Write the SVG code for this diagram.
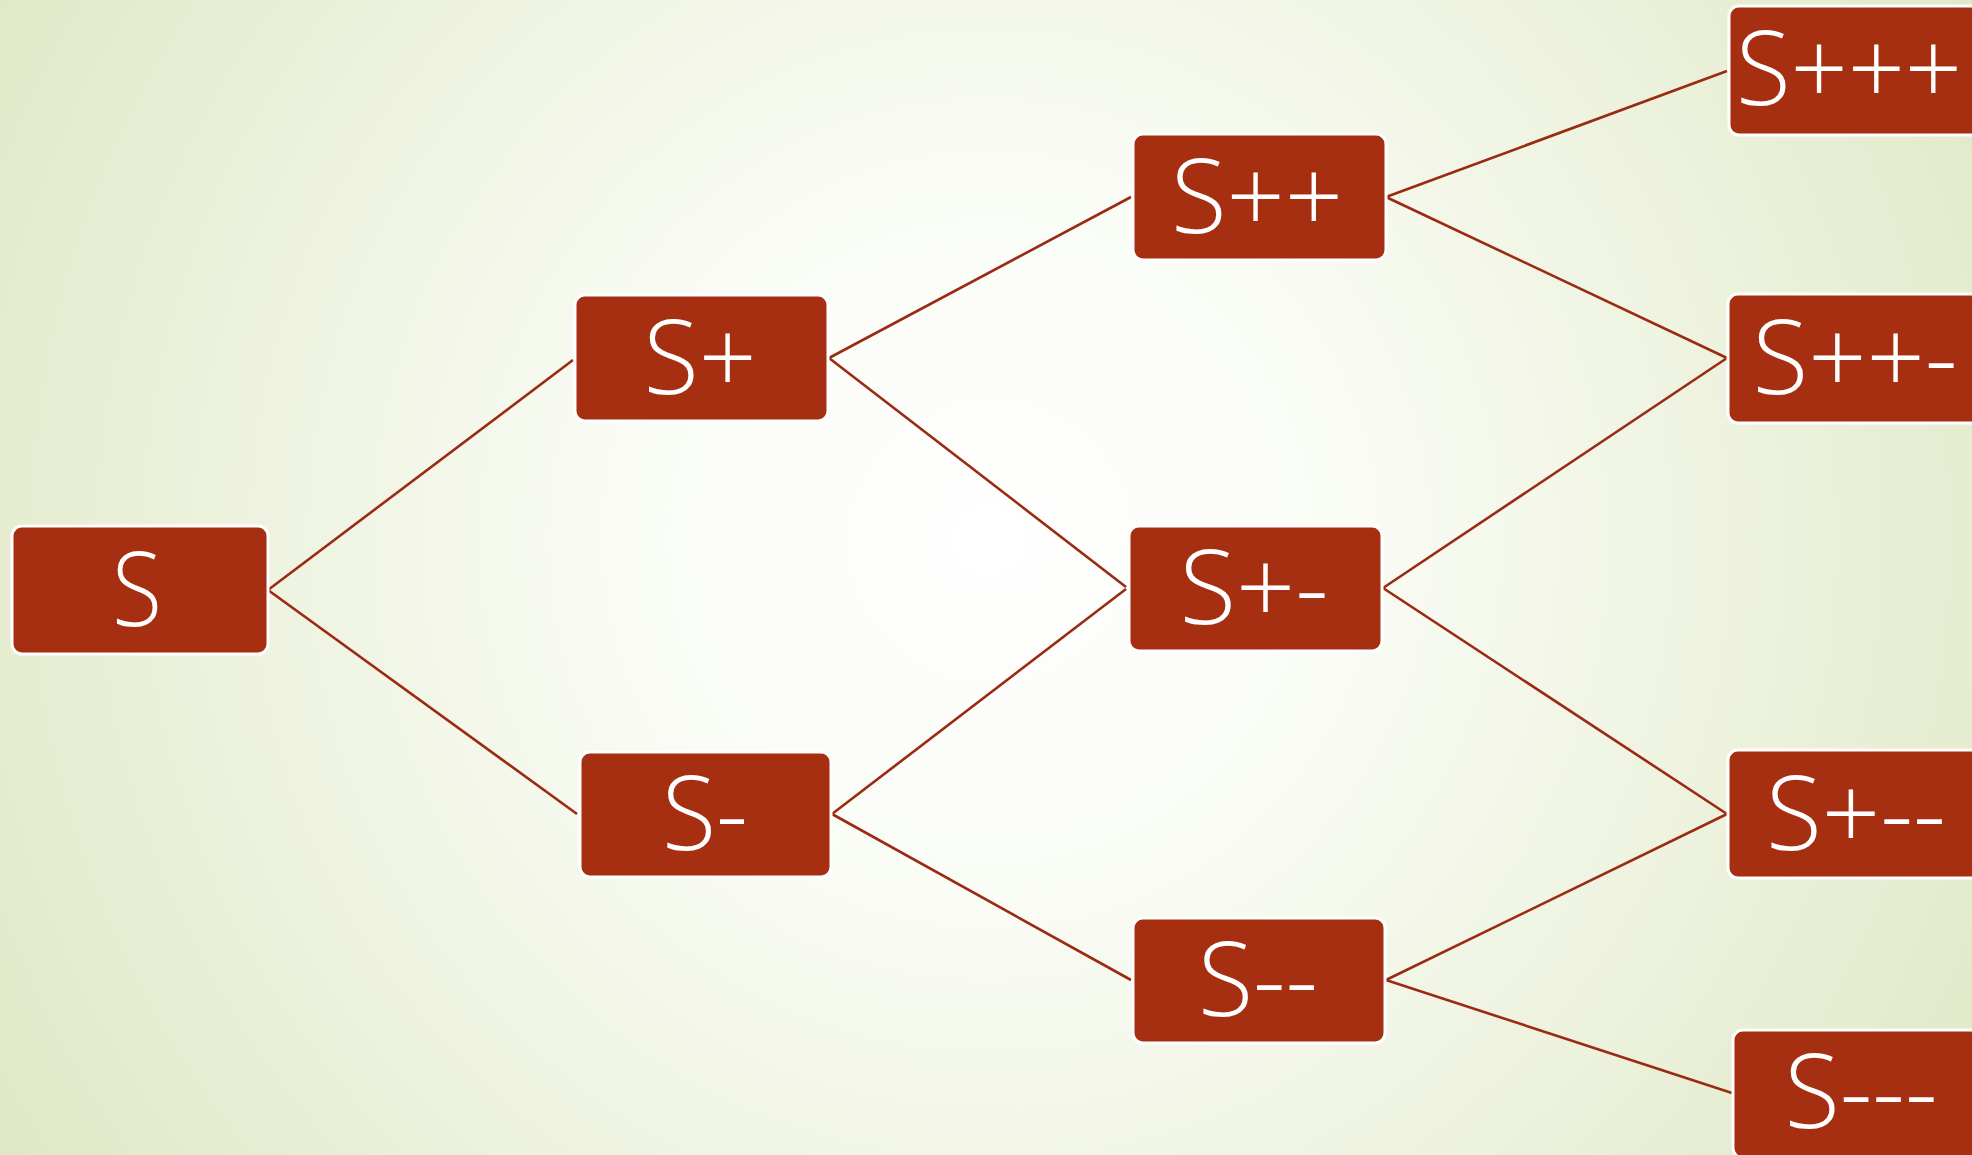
<svg xmlns="http://www.w3.org/2000/svg" width="1972" height="1155" viewBox="0 0 1972 1155">
<defs>
<radialGradient id="bg" cx="990" cy="540" r="1150" gradientUnits="userSpaceOnUse">
<stop offset="0" stop-color="#ffffff"/>
<stop offset="0.3" stop-color="#fafcf6"/>
<stop offset="0.7" stop-color="#ecf1db"/>
<stop offset="1" stop-color="#dfe8c6"/>
</radialGradient>
<style>
.box{fill:#a52f10;stroke:#ffffff;stroke-width:3}
.lbl{fill:#ffffff;font-family:"Open Sans","DejaVu Sans",sans-serif;font-weight:300;font-size:104px;text-anchor:middle}
.con line{stroke:#9b2a12;stroke-width:2.6;fill:none}
</style>
</defs>
<rect x="0" y="0" width="1972" height="1155" fill="url(#bg)"/>
<g id="connectors" class="con">
<line x1="268" y1="590" x2="573" y2="360"/>
<line x1="268" y1="590" x2="577" y2="814"/>
<line x1="829" y1="358" x2="1131" y2="197"/>
<line x1="829" y1="358" x2="1126" y2="587"/>
<line x1="832" y1="814" x2="1126" y2="589"/>
<line x1="832" y1="814" x2="1131" y2="980"/>
<line x1="1386" y1="197" x2="1727" y2="71"/>
<line x1="1386" y1="197" x2="1727" y2="358"/>
<line x1="1383" y1="588" x2="1727" y2="358"/>
<line x1="1383" y1="588" x2="1727" y2="814"/>
<line x1="1386" y1="980" x2="1727" y2="814"/>
<line x1="1386" y1="980" x2="1732" y2="1093"/>
</g>
<g id="node-S"><rect class="box" x="12" y="526" width="256" height="128" rx="10"/><text class="lbl" x="137" y="626" textLength="50" lengthAdjust="spacingAndGlyphs">S</text></g>
<g id="node-Sp"><rect class="box" x="575" y="295" width="253" height="126" rx="10"/><text class="lbl" x="700" y="394" textLength="113" lengthAdjust="spacingAndGlyphs">S+</text></g>
<g id="node-Sm"><rect class="box" x="580" y="752" width="251" height="125" rx="10"/><text class="lbl" x="705" y="850" textLength="86" lengthAdjust="spacingAndGlyphs">S-</text></g>
<g id="node-Spp"><rect class="box" x="1133" y="134" width="253" height="126" rx="10"/><text class="lbl" x="1257" y="233" textLength="172" lengthAdjust="spacingAndGlyphs">S++</text></g>
<g id="node-Spm"><rect class="box" x="1129" y="526" width="253" height="125" rx="10"/><text class="lbl" x="1254" y="624" textLength="149" lengthAdjust="spacingAndGlyphs">S+-</text></g>
<g id="node-Smm"><rect class="box" x="1133" y="918" width="252" height="125" rx="10"/><text class="lbl" x="1258" y="1016" textLength="120" lengthAdjust="spacingAndGlyphs">S--</text></g>
<g id="node-Sppp"><rect class="box" x="1729" y="6" width="253" height="129" rx="10"/><text class="lbl" x="1849" y="105" textLength="226" lengthAdjust="spacingAndGlyphs">S+++</text></g>
<g id="node-Sppm"><rect class="box" x="1728" y="294" width="253" height="129" rx="10"/><text class="lbl" x="1855" y="394" textLength="205" lengthAdjust="spacingAndGlyphs">S++-</text></g>
<g id="node-Spmm"><rect class="box" x="1728" y="750" width="253" height="128" rx="10"/><text class="lbl" x="1856" y="850" textLength="180" lengthAdjust="spacingAndGlyphs">S+--</text></g>
<g id="node-Smmm"><rect class="box" x="1733" y="1030" width="253" height="128" rx="10"/><text class="lbl" x="1861" y="1128" textLength="153" lengthAdjust="spacingAndGlyphs">S---</text></g>
</svg>
